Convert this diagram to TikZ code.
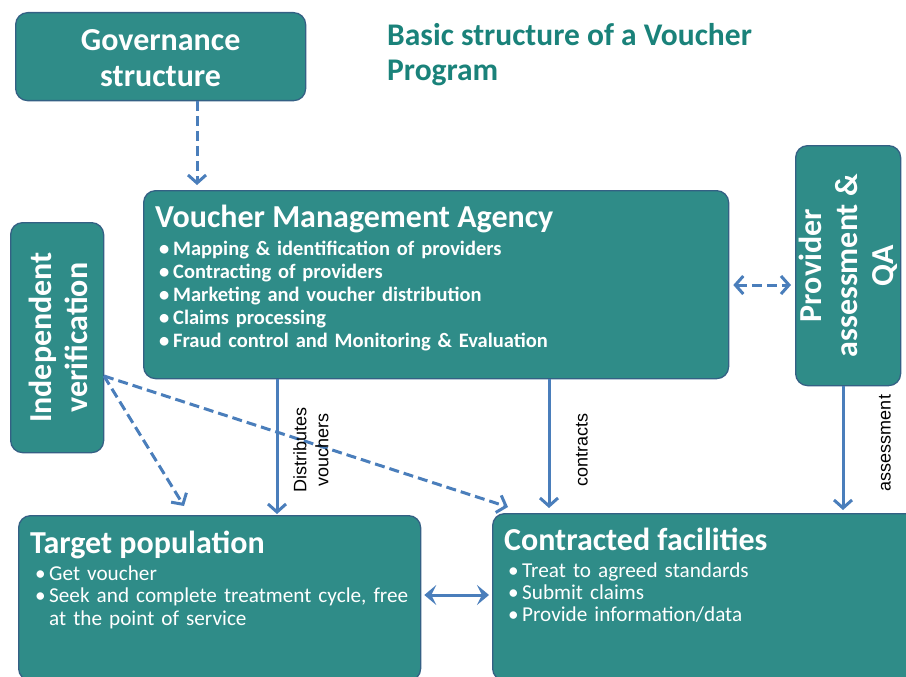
\documentclass[tikz,border=0pt]{standalone}
\usepackage{fontspec}
\setmainfont{Carlito}
\newfontfamily\labelfont{Liberation Sans}
\usetikzlibrary{arrows.meta,calc}

\definecolor{boxfill}{RGB}{47,140,136}
\definecolor{boxedge}{RGB}{52,96,132}
\definecolor{flowblue}{RGB}{74,126,187}
\definecolor{titleteal}{RGB}{26,130,122}

% list layout: hanging indent kept by \leftskip, bullet hung into the margin
\newcommand\listsetup{\leftskip=14pt\rightskip=0pt plus 1fil\parindent=0pt\parfillskip=0pt plus 1fil}
\newcommand\bulmark{\llap{\makebox[14pt][l]{\textbullet}}}
\newcommand\firstbul{\bulmark}
\newcommand\bul{\par\noindent\bulmark}

\tikzset{
  panel/.style={draw=boxedge, line width=1.3pt, fill=boxfill, rounded corners=12pt,
                inner sep=0pt, anchor=north west},
  head/.style={text=white, inner sep=0pt, font=\fontsize{32}{36}\selectfont\bfseries},
  items/.style={text=white, inner sep=0pt, anchor=base west,
                font=\fontsize{20.5}{23}\selectfont\bfseries},
  barb/.tip={Straight Barb[length=8pt,width=18pt,line width=3pt]},
  flow/.style={draw=flowblue, line width=3pt, -barb},
  dflow/.style={flow, dash pattern=on 10pt off 5pt},
  dflowboth/.style={dflow, barb-barb},
  flowboth/.style={draw=flowblue, line width=3pt,
                   {Stealth[length=12pt,width=20pt,inset=5pt]}-{Stealth[length=12pt,width=20pt,inset=5pt]}},
  edgelabel/.style={rotate=90, inner sep=0pt, align=center, font=\labelfont\fontsize{18}{22}\selectfont},
}

\begin{document}
\begin{tikzpicture}[x=1pt,y=-1pt]
\useasboundingbox (0,0) rectangle (906,677);

% boxes
\node[panel, minimum width=290pt, minimum height=88pt] (gov) at (15,12) {};
\node[head, align=center] (govtext) at ($(gov.center)+(0,1)$) {Governance\\structure};

\node[panel, minimum width=585pt, minimum height=188pt] (vma) at (143,190) {};
\node[panel, minimum width=93pt, minimum height=230pt] (iv) at (10,222) {};
\node[panel, minimum width=105pt, minimum height=240pt] (pqa) at (795,145) {};
\node[panel, minimum width=402pt, minimum height=165pt] (tp) at (18,515) {};
\node[panel, minimum width=430pt, minimum height=167pt] (cf) at (492,513) {};

% title
\node[anchor=base west, inner sep=0pt, text=titleteal,
      font=\fontsize{31.5}{35}\selectfont\bfseries] (title1) at (387,46) {Basic structure of a Voucher};
\node[anchor=base west, inner sep=0pt, text=titleteal,
      font=\fontsize{31.5}{35}\selectfont\bfseries] (title2) at (387,81) {Program};

% box texts
\node[head, anchor=base west] (vmahead) at (155,227) {Voucher Management Agency};
\node[items, text width=570pt] (vmalist) at (159,255) {\listsetup
  \firstbul Mapping \& identification of providers
  \bul Contracting of providers
  \bul Marketing and voucher distribution
  \bul Claims processing
  \bul Fraud control and Monitoring \& Evaluation\par};

\node[head, rotate=90, align=center] (ivtext) at ($(iv.center)+(1,0)$) {Independent\\verification};
\node[head, rotate=90, align=center] (pqatext) at ($(pqa.center)+(0,0)$) {Provider\\assessment \&\\QA};

\node[head, anchor=base west] (tphead) at (30,553) {Target population};
\node[items, text width=390pt, font=\fontsize{21.2}{22.5}\selectfont] (tplist) at (35,580) {\listsetup
  \firstbul Get voucher
  \bul Seek and complete treatment cycle, free\\at the point of service\par};

\node[head, anchor=base west] (cfhead) at (504,550) {Contracted facilities};
\node[items, text width=380pt, font=\fontsize{21.2}{22}\selectfont] (cflist) at (508,577) {\listsetup
  \firstbul Treat to agreed standards
  \bul Submit claims
  \bul Provide information/data\par};

% connector positions
\coordinate (xgov) at (197,0);
\coordinate (xdist) at (277,0);
\coordinate (xcon) at (549,0);
\coordinate (xass) at (843,0);
\coordinate (ivout) at (104,376);
\coordinate (tpin) at (184,506);
\coordinate (cfin) at (508,507);
\coordinate (ymid) at (0,285);
\coordinate (ylow) at (0,595);

% connectors
\draw[dflow] (xgov |- gov.south) -- ($(xgov |- vma.north)+(0,-5)$);
\draw[flow] (xdist |- vma.south) -- ($(xdist |- tp.north)+(0,-1)$);
\draw[flow] (xcon |- vma.south) -- ($(xcon |- cf.north)+(0,-5)$);
\draw[flow] (xass |- pqa.south) -- ($(xass |- cf.north)+(0,-3)$);
\draw[dflowboth] ($(vma.east |- ymid)+(4,0)$) -- ($(pqa.west |- ymid)+(-4,0)$);
\draw[flowboth] ($(tp.east |- ylow)+(3,0)$) -- ($(cf.west |- ylow)+(-3,0)$);
\draw[dflow] (ivout) -- (tpin);
\draw[dflow] (ivout) -- (cfin);

% connector labels
\node[edgelabel] (distlabel) at (311,450) {Distributes\\vouchers};
\node[edgelabel] (conlabel) at (582,450) {contracts};
\node[edgelabel] (asslabel) at (885,443) {assessment};
\end{tikzpicture}
\end{document}
